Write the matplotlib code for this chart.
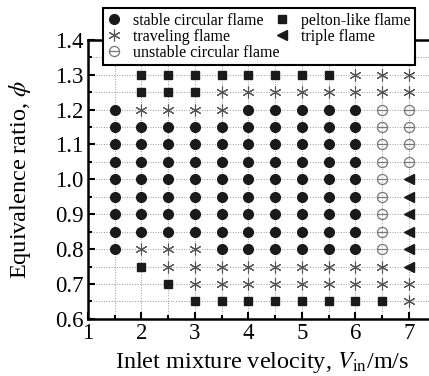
# flame regime map: phi vs inlet velocity
import numpy as np, matplotlib as mpl
mpl.use("Agg"); import matplotlib.pyplot as plt
from matplotlib.lines import Line2D
from matplotlib.ticker import MultipleLocator

plt.rcParams.update({"font.family":["Liberation Serif","DejaVu Serif"],"mathtext.fontset":"stix"})

VEL=[1.5,2.0,2.5,3.0,3.5,4.0,4.5,5.0,5.5,6.0,6.5,7.0]
PHI=[1.30,1.25,1.20,1.15,1.10,1.05,1.00,0.95,0.90,0.85,0.80,0.75,0.70,0.65]
# C=stable circular, S=pelton-like, A=traveling, U=unstable circular, T=triple, .=none
REGIME=[
 ".SSSSSSSSAAA",
 ".SSSAAAAAAAA",
 "CAAAACCCCCUU",
 "CCCCCCCCCCUU",
 "CCCCCCCCCCUU",
 "CCCCCCCCCCUU",
 "CCCCCCCCCCUT",
 "CCCCCCCCCCUT",
 "CCCCCCCCCCUT",
 "CCCCCCCCCCUT",
 "CAAACCCCCCUT",
 ".SAAAAAAAAAT",
 "..SAAAAAAAAA",
 "...SSSSSSSSA",
]
LABELS={"C":"stable circular flame","S":"pelton-like flame","A":"traveling flame",
        "U":"unstable circular flame","T":"triple flame"}

STY={
 "C":dict(marker="o",ms=7,color="#1a1a1a",ls="none"),
 "S":dict(marker="s",ms=6,color="#1a1a1a",ls="none"),
 "A":dict(marker=(6,2,0),ms=8.5,color="#555555",mew=0.8,ls="none"),
 "U":dict(marker=r"$\ominus$",ms=8,color="#777777",mew=0.2,ls="none"),
 "T":dict(marker="<",ms=7,color="#1a1a1a",ls="none"),
}

fig=plt.figure(figsize=(4.29,3.76),dpi=100)
ax=fig.add_axes([0.205,0.152,0.81,0.742])
for k in "CSAUT":
    xs=[VEL[j] for i,row in enumerate(REGIME) for j,c in enumerate(row) if c==k]
    ys=[PHI[i] for i,row in enumerate(REGIME) for j,c in enumerate(row) if c==k]
    ax.plot(xs,ys,zorder=3,clip_on=False,**STY[k])

ax.set_xlim(1,7.5); ax.set_ylim(0.6,1.4)
ax.xaxis.set_major_locator(MultipleLocator(1)); ax.xaxis.set_minor_locator(MultipleLocator(0.5))
ax.yaxis.set_major_locator(MultipleLocator(0.1)); ax.yaxis.set_minor_locator(MultipleLocator(0.05))
ax.grid(True,which="both",ls=":",lw=0.7,color="#999999",zorder=0)
ax.tick_params(which="both",direction="in",top=False,right=False,labelsize=16.5,width=1.5,pad=3)
ax.tick_params(which="major",length=5); ax.tick_params(which="minor",length=3)
for s in ax.spines.values(): s.set_linewidth(1.8)
ax.set_xticks([1,2,3,4,5,6,7])
ax.set_xlabel(r"Inlet mixture velocity, $V_{\rm in}$/m/s",fontsize=17.5,labelpad=4)
ax.set_ylabel(r"Equivalence ratio, $\phi$",fontsize=17.5,labelpad=16)

order=["C","A","U","S","T"]
handles=[Line2D([],[],**STY[k]) for k in order]
leg=fig.legend(handles,[LABELS[k] for k in order],ncol=2,loc="upper left",
               bbox_to_anchor=(0.240,0.979),borderaxespad=0,fontsize=11.5,frameon=True,
               fancybox=False,edgecolor="black",framealpha=1,handlelength=0.8,
               handletextpad=0.75,columnspacing=-0.2,labelspacing=0.0,borderpad=0.3)
leg.get_frame().set_linewidth(1.5)
fig.savefig("out.png",dpi=100)
